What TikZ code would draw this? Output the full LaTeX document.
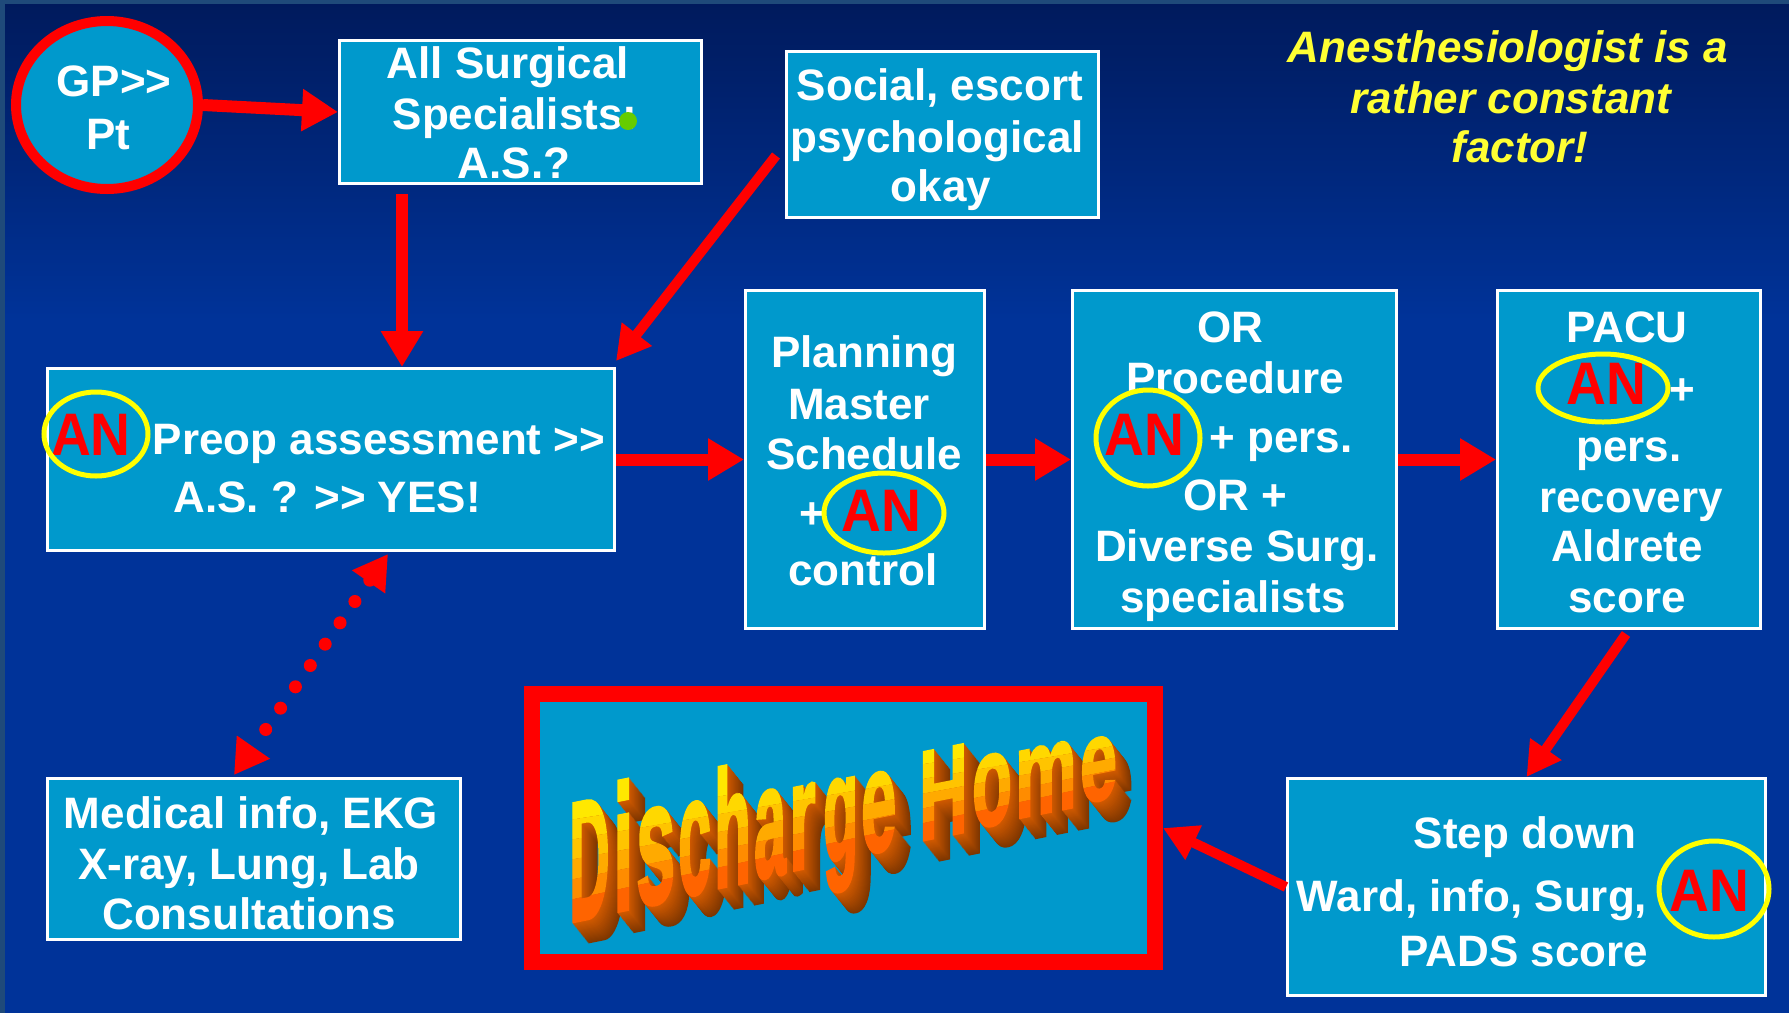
\documentclass[tikz,border=0pt]{standalone}
\usepackage{fontspec}
\setmainfont{Liberation Sans}
\newfontfamily\wafont{Liberation Sans}[FakeBold=2.5]
\usetikzlibrary{arrows.meta,shapes.geometric,calc}
\definecolor{bgtop}{RGB}{0,26,92}
\definecolor{bgbot}{RGB}{0,51,153}
\definecolor{framec}{RGB}{31,74,122}
\definecolor{boxblue}{RGB}{0,153,204}
\definecolor{anyellow}{RGB}{255,255,0}
\definecolor{txtyellow}{RGB}{255,255,51}
\definecolor{dotgreen}{RGB}{102,204,0}
\definecolor{extr}{RGB}{210,90,0}
\definecolor{bandA}{RGB}{255,232,0}
\definecolor{bandB}{RGB}{255,216,0}
\definecolor{bandC}{RGB}{255,196,0}
\definecolor{bandD}{RGB}{255,170,0}
\definecolor{bandE}{RGB}{255,140,0}
\definecolor{bandF}{RGB}{255,100,0}
\newcommand\dblgt{>\kern0pt>}
\newcommand\dhy[2]{800-0.143*(#1-569)+(#2)*(120-0.089*(#1-569))}
\newcommand\dhword[3]{%
  \foreach \ch/\xx/\sx/\sy [count=\i] in {D/569/0.56/1.70,i/613/0.72/1.78,s/636/0.70/1.75,c/678/0.59/1.69,h/714/0.60/1.65,a/754/0.57/1.59,r/789/0.68/1.54,g/823/0.57/1.50,e/861/0.63/1.45,H/919/0.67/1.27,o/972/0.65/1.30,m/1015/0.69/1.24,e/1080/0.66/1.15}{%
    \pgfmathsetmacro\dhyb{922-0.232*(\xx-569)}%
    \node[anchor=base west,inner sep=0pt,yslant=0.2,text=#1,font=\fontsize{100}{100}\wafont\bfseries] (dhl\i) at (\xx+#2,\dhyb+#3) {\scalebox{\sx}[\sy]{\ch}};
  }}
\newcommand\dhband[3]{%
  \begin{scope}
    \clip (540,{\dhy{540}{#1}}) -- (1170,{\dhy{1170}{#1}}) -- (1170,{\dhy{1170}{#2}}) -- (540,{\dhy{540}{#2}}) -- cycle;
    \dhword{#3}{0}{0}
  \end{scope}}

\begin{document}
\begin{tikzpicture}[x=1pt,y=-1pt,
  box/.style={draw=white,line width=3pt,fill=boxblue,inner sep=0pt},
  wt/.style={text=white,inner sep=0pt,anchor=base,font=\fontsize{44}{50}\selectfont\bfseries},
  yt/.style={text=txtyellow,inner sep=0pt,anchor=base,font=\fontsize{44}{50}\selectfont\bfseries\itshape},
  antext/.style={text=red,inner sep=0pt,anchor=base,font=\fontsize{60}{60}\selectfont\bfseries},
  anring/.style={draw=anyellow,line width=5pt,ellipse,inner sep=0pt},
  redarrow/.style={draw=red,line width=12pt,-{Triangle[length=36pt,width=40pt]}},
  thinarrow/.style={draw=red,line width=10pt,-{Triangle[length=34pt,width=36pt]}},
  dotarrow/.style={draw=red,line width=13pt,line cap=round,dash pattern=on 0pt off 26pt,
    {Triangle[length=34pt,width=38pt]}-{Triangle[length=34pt,width=38pt]}}
]
\useasboundingbox (0,0) rectangle (1789,1013);
% background
\fill[bgbot] (0,0) rectangle (1789,1013);
\shade[top color=bgtop,bottom color=bgbot] (0,0) rectangle (1789,320);
\fill[framec] (0,0) rectangle (1789,4);
\fill[framec] (0,0) rectangle (5,1013);

% GP ellipse
\node[ellipse,draw=red,line width=10pt,fill=boxblue,minimum width=182pt,minimum height=168pt,inner sep=0pt] (gp) at (107,105) {};
\node[wt] (gp1) at (114,96) {GP\dblgt};
\node[wt] (gp2) at (108,149) {Pt};

% All surgical
\node[box,minimum width=362pt,minimum height=143pt] (allsurg) at (520.5,112) {};
\node[wt] (as1) at (508,78) {All Surgical};
\node[wt] (as2) at (515,129) {Specialists:};
\node[wt] (as3) at (514,178) {A.S.?};
\fill[dotgreen] (628,121) circle (9pt);

% Social
\node[box,minimum width=312pt,minimum height=166pt] (social) at (942.5,134.5) {};
\node[wt] (so1) at (940,100) {Social, escort};
\node[wt] (so2) at (937,152) {psychological};
\node[wt] (so3) at (941,201) {okay};

% Preop
\node[box,minimum width=567pt,minimum height=182pt] (preop) at (331,459.5) {};
\node[antext] (an1) at (91,455) {\scalebox{0.92}[1]{AN}};
\node[anring,minimum width=104pt,minimum height=84pt] (ring1) at (96,434) {};
\node[wt] (pr1) at (379,454) {Preop assessment \dblgt};
\node[wt] (pr2) at (327,512) {A.S. ? \dblgt{} YES!};

% Planning
\node[box,minimum width=239pt,minimum height=338pt] (planning) at (865,459.5) {};
\node[wt] (pl1) at (864,367) {Planning};
\node[wt] (pl2) at (859,419) {Master};
\node[wt] (pl3) at (864,469) {Schedule};
\node[wt] (pl4) at (812,528) {+};
\node[antext] (an2) at (881,531) {\scalebox{0.92}[1]{AN}};
\node[anring,minimum width=120pt,minimum height=80pt] (ring2) at (884,513) {};
\node[wt] (pl5) at (863,585) {control};

% OR
\node[box,minimum width=324pt,minimum height=338pt] (orbox) at (1234.5,459.5) {};
\node[wt] (or1) at (1230,342) {OR};
\node[wt] (or2) at (1235,393) {Procedure};
\node[antext] (an3) at (1144,455) {\scalebox{0.92}[1]{AN}};
\node[anring,minimum width=104pt,minimum height=96pt] (ring3) at (1148,438) {};
\node[wt] (or3) at (1281,452) {+ pers.};
\node[wt] (or4) at (1235,510) {OR +};
\node[wt] (or5) at (1237,561) {Diverse Surg.};
\node[wt] (or6) at (1233,612) {specialists};

% PACU
\node[box,minimum width=263pt,minimum height=338pt] (pacu) at (1629,459.5) {};
\node[wt] (pa1) at (1627,342) {PACU};
\node[antext] (an4) at (1606,404) {\scalebox{0.92}[1]{AN}};
\node[anring,minimum width=130pt,minimum height=68pt] (ring4) at (1603,388) {};
\node[wt] (pa2) at (1682,404) {+};
\node[wt] (pa3) at (1629,461) {pers.};
\node[wt] (pa4) at (1631,512) {recovery};
\node[wt] (pa5) at (1627,561) {Aldrete};
\node[wt] (pa6) at (1627,612) {score};

% Step down
\node[box,minimum width=478pt,minimum height=217pt] (stepdown) at (1526.5,887) {};
\node[wt] (sd1) at (1525,848) {Step down};
\node[wt] (sd2) at (1472,911) {Ward, info, Surg,};
\node[wt] (sd3) at (1524,966) {PADS score};
\node[antext] (an5) at (1709,911) {\scalebox{0.92}[1]{AN}};
\node[anring,minimum width=110pt,minimum height=96pt] (ring5) at (1714,889) {};

% Medical
\node[box,minimum width=413pt,minimum height=161pt] (medical) at (254,859) {};
\node[wt] (me1) at (251,828) {Medical info, EKG};
\node[wt] (me2) at (249,879) {X-ray, Lung, Lab};
\node[wt] (me3) at (249,929) {Consultations};

% Discharge
\node[draw=red,line width=16pt,fill=boxblue,minimum width=623pt,minimum height=268pt,inner sep=0pt] (discharge) at (843.5,828) {};
\foreach \k in {20,19,...,1}{%
  \pgfmathtruncatemacro\pc{100-2*\k}%
  \dhword{extr!\pc!black}{0.8*\k}{1.0*\k}}
\dhband{-1}{0.1667}{bandA}
\dhband{0.1667}{0.3333}{bandB}
\dhband{0.3333}{0.5}{bandC}
\dhband{0.5}{0.6667}{bandD}
\dhband{0.6667}{0.8333}{bandE}
\dhband{0.8333}{1.7}{bandF}

% top-right note
\node[yt] (note1) at (1508,62) {Anesthesiologist is a};
\node[yt] (note2) at (1511,113) {rather constant};
\node[yt] (note3) at (1520,162) {factor!};

% connectors
\draw[redarrow] (gp.east) -- (allsurg.west);
\coordinate (a1) at ($(allsurg.south west)+(64,9)$);
\draw[redarrow] (a1) -- (a1 |- preop.north);
\draw[thinarrow] ($(social.west)+(-9,21)$) -- ($(preop.north east)+(0,-6)$);
\draw[redarrow] (preop.east) -- (planning.west);
\draw[redarrow] (planning.east) -- (orbox.west);
\draw[redarrow] (orbox.east) -- (pacu.west);
\draw[thinarrow] ($(pacu.south)+(-3,4)$) -- (stepdown.north);
\draw[thinarrow] (stepdown.west) -- (discharge.east);
\draw[dotarrow] ($(preop.south west)+(342,2)$) -- ($(medical.north west)+(188,-2)$);
\end{tikzpicture}
\end{document}
